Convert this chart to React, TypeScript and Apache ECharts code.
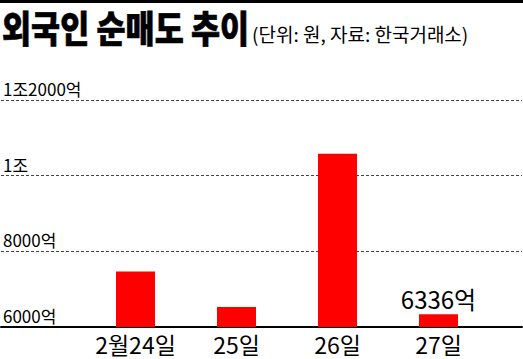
import React, { useEffect, useRef } from "react";
import * as echarts from "echarts";

const categories = ["2월24일", "25일", "26일", "27일"];
const values = [7470, 6530, 10580, 6336];
const yTicks = [6000, 8000, 10000, 12000];
const yTickLabels = ["6000억", "8000억", "1조", "1조2000억"];
const valueLabels = ["", "", "", "6336억"];

const NARROW = "'Liberation Sans Narrow', 'Noto Sans CJK KR', sans-serif";

export default function App() {
  const ref = useRef<HTMLDivElement>(null);
  useEffect(() => {
    document.body.style.margin = "0";
    const chart = echarts.init(ref.current!, null, { renderer: "svg" });
    chart.setOption({
      animation: false,
      backgroundColor: "#ffffff",
      title: [
        {
          text: "(단위: 원, 자료: 한국거래소)",
          left: 252,
          top: 24,
          padding: 0,
          textStyle: {
            fontFamily: "'Noto Sans CJK KR', sans-serif",
            fontSize: 19,
            fontWeight: "normal",
            color: "#000",
          },
        },
      ],
      graphic: [
        {
          type: "rect",
          left: 0,
          top: 0,
          shape: { width: 523, height: 3 },
          style: { fill: "#000" },
        },
        {
          type: "text",
          x: 2,
          y: 8,
          scaleX: 0.93,
          scaleY: 1.1,
          style: {
            text: "외국인 순매도 추이",
            fontFamily: "'Noto Sans CJK KR', sans-serif",
            fontSize: 34,
            fontWeight: 900,
            fill: "#000",
            stroke: "#000",
            lineWidth: 0.6,
            align: "left",
            verticalAlign: "top",
          },
        },
      ],
      grid: [
        { left: 0, right: 1, top: 100, bottom: 32 },
        { left: 85, right: 34, top: 100, bottom: 32 },
      ],
      xAxis: [
        {
          gridIndex: 0,
          type: "value",
          min: 0,
          max: 1,
          axisLine: { show: true, lineStyle: { color: "#000", width: 2 } },
          axisTick: { show: false },
          axisLabel: { show: false },
          splitLine: { show: false },
        },
        {
          gridIndex: 1,
          type: "category",
          data: categories,
          axisLine: { show: false },
          axisTick: { show: false },
          axisLabel: {
            interval: 0,
            margin: 5,
            fontFamily: NARROW,
            fontSize: 23,
            lineHeight: 23,
            color: "#000",
          },
        },
      ],
      yAxis: [
        {
          gridIndex: 0,
          type: "value",
          min: yTicks[0],
          max: yTicks[yTicks.length - 1],
          interval: 2000,
          axisLine: { show: false },
          axisTick: { show: false },
          splitLine: {
            show: true,
            lineStyle: { color: "#444", type: [3, 2], width: 1 },
          },
          axisLabel: {
            inside: true,
            margin: 2,
            align: "left",
            verticalAlign: "bottom",
            padding: [0, 0, 3, 0],
            fontFamily: NARROW,
            fontSize: 17,
            color: "#000",
            formatter: (v: number) => {
              const i = yTicks.indexOf(v);
              return i >= 0 ? yTickLabels[i] : "";
            },
          },
        },
        {
          gridIndex: 1,
          type: "value",
          min: yTicks[0],
          max: yTicks[yTicks.length - 1],
          show: false,
          splitLine: { show: false },
        },
      ],
      series: [
        {
          type: "bar",
          xAxisIndex: 1,
          yAxisIndex: 1,
          barWidth: 39,
          itemStyle: { color: "#ff0000" },
          data: values.map((v, i) => ({
            value: v,
            label: {
              show: valueLabels[i] !== "",
              position: "top",
              distance: 4,
              formatter: valueLabels[i],
              fontFamily: NARROW,
              fontSize: 24,
              color: "#000",
            },
          })),
        },
      ],
    });
    return () => chart.dispose();
  }, []);
  return (
    <div
      ref={ref}
      style={{ position: "fixed", left: 0, top: 0, width: 523, height: 359 }}
    />
  );
}
